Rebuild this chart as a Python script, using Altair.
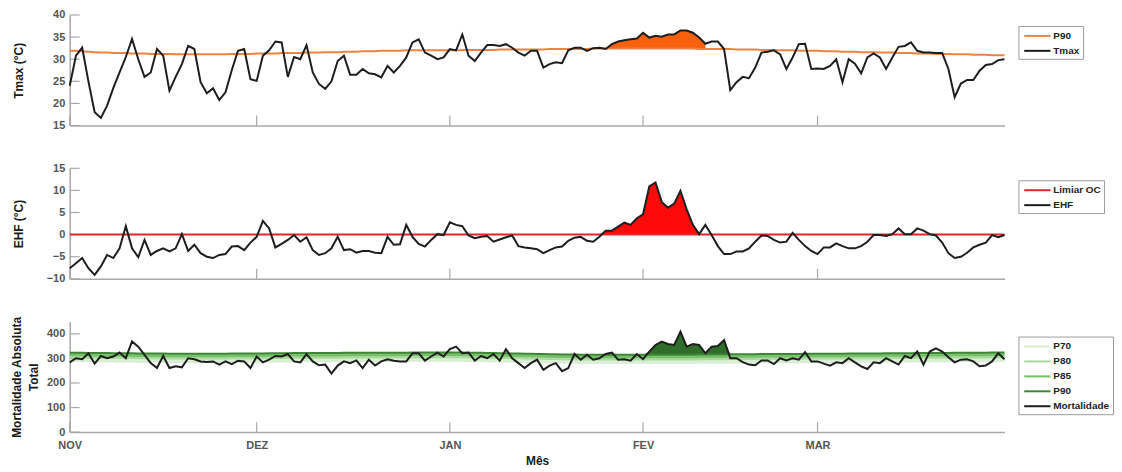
import altair as alt
import pandas as pd

# ---------------- data ----------------
months = ["NOV", "DEZ", "JAN", "FEV", "MAR"]
month_start_day = [0, 30, 61, 92, 120]
n_days = 151

tmax = [24.0, 30.8, 32.6, 25.0, 18.0, 16.7, 19.5, 23.5, 27.0, 30.5,
        34.6, 30.0, 26.0, 27.0, 32.3, 30.8, 22.9, 26.0, 28.9, 33.0,
        32.3, 24.8, 22.3, 23.4, 20.8, 22.5, 27.5, 31.9, 32.3, 25.5,
        25.1, 30.8, 32.0, 34.0, 33.8, 26.0, 30.5, 30.0, 33.2, 27.0,
        24.4, 23.3, 25.0, 29.6, 30.8, 26.5, 26.5, 27.8, 26.8, 26.6,
        25.9, 28.5, 27.0, 28.5, 30.4, 33.8, 34.5, 31.5, 30.8, 30.0,
        30.4, 32.3, 32.0, 35.6, 30.8, 29.6, 31.5, 33.2, 33.2, 33.0,
        33.4, 32.6, 31.5, 30.8, 31.9, 31.9, 28.1, 28.9, 29.3, 29.1,
        32.0, 32.6, 32.6, 31.9, 32.5, 32.6, 32.3, 33.4, 34.0, 34.3,
        34.5, 34.7, 36.0, 34.9, 35.3, 35.1, 35.6, 35.6, 36.5, 36.5,
        36.0, 34.9, 33.5, 34.0, 34.0, 32.3, 23.0, 24.8, 26.0, 25.7,
        28.1, 31.5, 31.7, 32.0, 31.1, 27.8, 30.4, 33.4, 33.5, 27.8,
        27.9, 27.8, 28.5, 30.0, 24.8, 30.0, 29.0, 26.8, 30.4, 31.3,
        30.4, 27.8, 30.4, 32.8, 33.0, 33.8, 31.9, 31.5, 31.5, 31.4,
        31.4, 27.8, 21.4, 24.5, 25.3, 25.3, 27.4, 28.7, 28.9, 29.8,
        30.0]

tmax_p90 = [31.9, 31.9, 31.8, 31.7, 31.6, 31.5, 31.5, 31.4, 31.4, 31.4,
            31.3, 31.3, 31.3, 31.2, 31.2, 31.2, 31.2, 31.1, 31.1, 31.1,
            31.1, 31.1, 31.1, 31.1, 31.1, 31.1, 31.2, 31.2, 31.2, 31.2,
            31.3, 31.3, 31.3, 31.3, 31.4, 31.4, 31.4, 31.4, 31.5, 31.5,
            31.5, 31.6, 31.6, 31.6, 31.7, 31.7, 31.7, 31.8, 31.8, 31.8,
            31.9, 31.9, 31.9, 31.9, 32.0, 32.0, 32.0, 32.0, 32.0, 32.0,
            32.0, 32.0, 32.0, 32.1, 32.1, 32.1, 32.1, 32.1, 32.1, 32.2,
            32.2, 32.2, 32.2, 32.2, 32.2, 32.2, 32.2, 32.3, 32.3, 32.3,
            32.3, 32.3, 32.3, 32.3, 32.4, 32.4, 32.4, 32.4, 32.4, 32.4,
            32.4, 32.4, 32.4, 32.4, 32.4, 32.4, 32.4, 32.4, 32.4, 32.4,
            32.4, 32.3, 32.3, 32.3, 32.3, 32.3, 32.3, 32.2, 32.2, 32.2,
            32.2, 32.1, 32.1, 32.1, 32.0, 32.0, 32.0, 31.9, 31.9, 31.9,
            31.9, 31.8, 31.8, 31.8, 31.7, 31.7, 31.7, 31.6, 31.6, 31.6,
            31.5, 31.5, 31.5, 31.4, 31.4, 31.4, 31.3, 31.3, 31.3, 31.2,
            31.2, 31.2, 31.1, 31.1, 31.1, 31.0, 31.0, 31.0, 30.9, 30.9,
            30.9]

ehf = [-7.6, -6.5, -5.3, -7.6, -9.1, -7.2, -4.6, -5.3, -3.1, 1.9,
       -3.1, -5.1, -1.2, -4.6, -3.7, -3.1, -3.8, -3.1, 0.1, -3.7,
       -2.3, -4.2, -5.0, -5.3, -4.6, -4.4, -2.7, -2.6, -3.5, -1.8,
       -0.5, 3.1, 1.4, -2.9, -2.1, -1.2, -0.1, -1.6, -0.6, -3.5,
       -4.6, -4.2, -3.1, -0.5, -3.5, -3.3, -4.1, -3.7, -3.7, -4.1,
       -4.2, -0.5, -2.3, -2.2, 2.2, -0.5, -2.1, -2.7, -1.2, 0.1,
       -0.1, 2.8, 2.2, 1.9, -0.2, -0.8, -0.5, -0.3, -1.6, -1.1,
       -0.6, -0.2, -2.6, -2.9, -3.1, -3.3, -4.2, -3.5, -2.9, -2.7,
       -1.4, -0.7, -0.5, -1.4, -1.6, -0.5, 0.9, 0.9, 1.8, 2.7,
       2.2, 3.7, 4.6, 10.9, 11.8, 7.4, 6.1, 7.0, 9.9, 5.7,
       2.2, 0.1, 2.2, -0.1, -2.6, -4.4, -4.4, -3.8, -3.8, -3.1,
       -1.6, -0.2, -0.3, -1.2, -1.8, -1.6, 0.4, -1.2, -2.6, -3.7,
       -4.4, -2.9, -2.9, -2.0, -2.6, -3.1, -3.1, -2.6, -1.6, -0.1,
       -0.1, -0.3, 0.1, 1.4, 0.1, 0.1, 1.4, 0.9, 0.1, -0.2,
       -1.8, -4.2, -5.3, -5.0, -4.1, -2.9, -2.3, -1.8, -0.1, -0.6,
       -0.1]
ehf_limiar = 0

mortalidade = [284, 301, 297, 321, 279, 310, 301, 308, 324, 301,
               369, 348, 315, 281, 261, 310, 261, 268, 264, 301,
               297, 288, 286, 288, 275, 288, 277, 291, 288, 261,
               308, 284, 295, 310, 308, 318, 288, 284, 318, 288,
               272, 275, 238, 271, 288, 281, 292, 261, 295, 271,
               288, 297, 291, 288, 288, 321, 321, 291, 308, 324,
               308, 338, 348, 321, 324, 291, 310, 301, 318, 291,
               338, 301, 281, 261, 281, 295, 254, 271, 281, 248,
               261, 318, 295, 315, 295, 301, 318, 324, 295, 297,
               291, 318, 297, 328, 355, 369, 359, 355, 409, 348,
               359, 355, 321, 348, 351, 375, 301, 301, 285, 275,
               272, 292, 292, 277, 301, 292, 301, 295, 326, 288,
               288, 279, 271, 284, 281, 301, 284, 268, 257, 284,
               281, 301, 288, 275, 310, 301, 328, 275, 328, 341,
               328, 305, 284, 295, 297, 288, 268, 271, 288, 321,
               297]

mort_p90 = [323, 323, 323, 322, 322, 322, 322, 321, 321, 321, 321, 320, 320, 320, 320, 320, 319, 319, 319, 319,
            319, 319, 319, 319, 319, 319, 320, 320, 320, 320,
            320, 320, 321, 321, 321, 321, 322, 322, 322, 322, 322, 322, 322, 322, 323, 323, 323, 323, 323, 323,
            323, 323, 323, 323, 323, 324, 324, 324, 324, 324, 324,
            324, 324, 324, 323, 323, 323, 322, 322, 321, 321, 320, 320, 319, 319, 318, 318, 317, 317, 316, 316,
            316, 315, 315, 315, 315, 315, 315, 315, 315, 315, 315,
            315, 315, 315, 315, 315, 315, 315, 315, 315, 316, 316, 316, 316, 316, 317, 317, 317, 317, 317, 318,
            318, 318, 318, 318, 318, 318, 319, 319, 319,
            319, 319, 319, 319, 320, 320, 320, 320, 320, 320, 321, 321, 321, 321, 321, 322, 322, 322, 322, 322,
            322, 323, 323, 323, 323, 323, 323, 324, 324, 324]
mort_p85 = [312, 312, 312, 311, 311, 311, 311, 310, 310, 310, 310, 309, 309, 309, 309, 309, 308, 308, 308, 308,
            308, 308, 308, 308, 308, 308, 309, 309, 309, 309,
            309, 309, 310, 310, 310, 310, 311, 311, 311, 311, 311, 311, 311, 311, 312, 312, 312, 312, 312, 312,
            312, 312, 312, 312, 312, 313, 313, 313, 313, 313, 313,
            313, 313, 313, 312, 312, 312, 311, 311, 310, 310, 309, 309, 308, 308, 307, 307, 306, 306, 305, 305,
            305, 304, 304, 304, 304, 304, 304, 304, 304, 304, 304,
            304, 304, 304, 304, 304, 304, 304, 304, 304, 305, 305, 305, 305, 305, 306, 306, 306, 306, 306, 307,
            307, 307, 307, 307, 307, 307, 308, 308, 308,
            308, 308, 308, 308, 309, 309, 309, 309, 309, 309, 310, 310, 310, 310, 310, 311, 311, 311, 311, 311,
            311, 312, 312, 312, 312, 312, 312, 313, 313, 313]
mort_p80 = [303, 303, 303, 302, 302, 302, 302, 301, 301, 301, 301, 300, 300, 300, 300, 300, 299, 299, 299, 299,
            299, 299, 299, 299, 299, 299, 300, 300, 300, 300,
            300, 300, 301, 301, 301, 301, 302, 302, 302, 302, 302, 302, 302, 302, 303, 303, 303, 303, 303, 303,
            303, 303, 303, 303, 303, 304, 304, 304, 304, 304, 304,
            304, 304, 304, 303, 303, 303, 302, 302, 301, 301, 300, 300, 299, 299, 298, 298, 297, 297, 296, 296,
            296, 295, 295, 295, 295, 295, 295, 295, 295, 295, 295,
            295, 295, 295, 295, 295, 295, 295, 295, 295, 296, 296, 296, 296, 296, 297, 297, 297, 297, 297, 298,
            298, 298, 298, 298, 298, 298, 299, 299, 299,
            299, 299, 299, 299, 300, 300, 300, 300, 300, 300, 301, 301, 301, 301, 301, 302, 302, 302, 302, 302,
            302, 303, 303, 303, 303, 303, 303, 304, 304, 304]
mort_p70 = [289, 289, 289, 288, 288, 288, 288, 287, 287, 287, 287, 286, 286, 286, 286, 286, 285, 285, 285, 285,
            285, 285, 285, 285, 285, 285, 286, 286, 286, 286,
            286, 286, 287, 287, 287, 287, 288, 288, 288, 288, 288, 288, 288, 288, 289, 289, 289, 289, 289, 289,
            289, 289, 289, 289, 289, 290, 290, 290, 290, 290, 290,
            290, 290, 290, 289, 289, 289, 288, 288, 287, 287, 286, 286, 285, 285, 284, 284, 283, 283, 282, 282,
            282, 281, 281, 281, 281, 281, 281, 281, 281, 281, 281,
            281, 281, 281, 281, 281, 281, 281, 281, 281, 282, 282, 282, 282, 282, 283, 283, 283, 283, 283, 284,
            284, 284, 284, 284, 284, 284, 285, 285, 285,
            285, 285, 285, 285, 286, 286, 286, 286, 286, 286, 287, 287, 287, 287, 287, 288, 288, 288, 288, 288,
            288, 289, 289, 289, 289, 289, 289, 290, 290, 290]

# heat-wave windows (first day, last day) shaded in each panel
tmax_wave = [86, 102]
ehf_wave = [85, 101]
mort_wave = [92, 106]

tmax_ticks = [15, 20, 25, 30, 35, 40]
ehf_ticks = [-10, -5, 0, 5, 10, 15]
mort_ticks = [0, 100, 200, 300, 400]

for name, s in [("tmax", tmax), ("tmax_p90", tmax_p90), ("ehf", ehf), ("mort", mortalidade),
                ("p90", mort_p90), ("p85", mort_p85), ("p80", mort_p80), ("p70", mort_p70)]:
    if len(s) != n_days:
        raise ValueError(f"{name} has {len(s)} values")

days = list(range(n_days))
df = pd.DataFrame({
    "day": days, "tmax": tmax, "tmax_p90": tmax_p90, "ehf": ehf,
    "mort": mortalidade, "p90": mort_p90, "p85": mort_p85, "p80": mort_p80, "p70": mort_p70,
})


def long_df(series):
    parts = [pd.DataFrame({"day": days, "serie": name, "valor": vals}) for name, vals in series]
    return pd.concat(parts, ignore_index=True)


long1 = long_df([("P90", tmax_p90), ("Tmax", tmax)])
long2 = long_df([("Limiar OC", [ehf_limiar] * n_days), ("EHF", ehf)])
long3 = long_df([("P70", mort_p70), ("P80", mort_p80), ("P85", mort_p85), ("P90", mort_p90),
                 ("Mortalidade", mortalidade)])

# ---------------- style ----------------
W, H = 939, 111
FONT = "Liberation Sans"
BLACK = "#1e1e1e"
ORANGE_LINE = "#EE8240"
ORANGE_FILL = "#F8600C"
RED = "#E3242B"
RED_FILL = "#FF0A0A"
G70, G80, G85, G90 = "#D6EDCF", "#A9D99D", "#72BF65", "#3E8636"
G_FILL = "#2F6E29"
AXIS_GRAY = "#A8A8A8"

xscale = alt.Scale(domain=[0, n_days - 1], nice=False, zero=False)
label_expr = " : ".join(f"datum.value == {d} ? '{m}'" for d, m in zip(month_start_day, months)) + " : ''"


def x_enc(show_labels):
    if show_labels:
        ax = alt.Axis(values=month_start_day, labelExpr=label_expr, ticks=False, grid=False,
                      title="Mês", labelFlush=False, labelPadding=7, titlePadding=6,
                      domainColor=AXIS_GRAY, domainWidth=1.5)
    else:
        ax = alt.Axis(values=month_start_day, labels=False, ticks=False, grid=False, title=None,
                      domainColor=AXIS_GRAY, domainWidth=1.5)
    return alt.X("day:Q", scale=xscale, axis=ax)


def y_axis(title, ticks, title_x, baseline="bottom", line_h=14):
    return alt.Axis(values=ticks, title=title, ticks=False, grid=False, labelFlush=False,
                    labelPadding=5, titleX=title_x, titleY=H / 2, titleAngle=-90,
                    titleBaseline=baseline, titleAlign="center", titleLineHeight=line_h,
                    domainColor=AXIS_GRAY, domainWidth=1.5)


def legend(y_off):
    return alt.Legend(title=None, orient="none", legendX=953, legendY=y_off, direction="vertical",
                      symbolType="M-2.2,0H2.2", symbolStrokeWidth=2, symbolSize=144,
                      symbolOffset=9, labelOffset=9,
                      labelFont=FONT, labelFontWeight="bold", labelFontSize=10, labelColor="#222",
                      strokeColor="#9a9a9a", fillColor="white", padding=3, rowPadding=3,
                      cornerRadius=0)


def inward_ticks(ticks, yscale, yaxis, xshow):
    ydf = pd.DataFrame({"valor": ticks})
    yt = alt.Chart(ydf).mark_rule(color=AXIS_GRAY, strokeWidth=1.2).encode(
        y=alt.Y("valor:Q", scale=yscale, axis=yaxis),
        x=alt.value(0), x2=alt.value(10))
    xdf = pd.DataFrame({"day": month_start_day})
    xt = alt.Chart(xdf).mark_rule(color=AXIS_GRAY, strokeWidth=1.2).encode(
        x=x_enc(xshow), y=alt.value(H), y2=alt.value(H - 10))
    return [yt, xt]


def series_line(data, name, X, ys, ya, cs, leg, width=2.0):
    return alt.Chart(data).transform_filter(alt.datum.serie == name).mark_line(strokeWidth=width).encode(
        x=X, y=alt.Y("valor:Q", scale=ys, axis=ya),
        color=alt.Color("serie:N", scale=cs, legend=leg))


base = alt.Chart(df)

# ---------------- panel 1: Tmax ----------------
ys1 = alt.Scale(domain=[15, 40], nice=False, zero=False)
ya1 = y_axis("Tmax (°C)", tmax_ticks, -44)
X1 = x_enc(False)
cs1 = alt.Scale(domain=["P90", "Tmax"], range=[ORANGE_LINE, BLACK])
lg1 = legend(11)
p1_fill = base.transform_filter(
    (alt.datum.day >= tmax_wave[0]) & (alt.datum.day <= tmax_wave[1])
).transform_calculate(top="max(datum.tmax, datum.tmax_p90)").mark_area(color=ORANGE_FILL).encode(
    x=X1, y=alt.Y("tmax_p90:Q", scale=ys1, axis=ya1), y2="top:Q")
panel1 = alt.layer(
    p1_fill, *inward_ticks(tmax_ticks, ys1, ya1, False),
    series_line(long1, "P90", X1, ys1, ya1, cs1, lg1),
    series_line(long1, "Tmax", X1, ys1, ya1, cs1, lg1),
).properties(width=W, height=H)

# ---------------- panel 2: EHF ----------------
ys2 = alt.Scale(domain=[-10, 15], nice=False, zero=False)
ya2 = y_axis("EHF (°C)", ehf_ticks, -44)
X2 = x_enc(False)
cs2 = alt.Scale(domain=["Limiar OC", "EHF"], range=[RED, BLACK])
lg2 = legend(12)
p2_fill = base.transform_filter(
    (alt.datum.day >= ehf_wave[0]) & (alt.datum.day <= ehf_wave[1])
).transform_calculate(lim=f"{ehf_limiar}", top=f"max(datum.ehf, {ehf_limiar})").mark_area(
    color=RED_FILL).encode(x=X2, y=alt.Y("lim:Q", scale=ys2, axis=ya2), y2="top:Q")
panel2 = alt.layer(
    p2_fill, *inward_ticks(ehf_ticks, ys2, ya2, False),
    series_line(long2, "Limiar OC", X2, ys2, ya2, cs2, lg2),
    series_line(long2, "EHF", X2, ys2, ya2, cs2, lg2),
).properties(width=W, height=H)

# ---------------- panel 3: Mortalidade ----------------
ys3 = alt.Scale(domain=[0, 450], nice=False, zero=True)
ya3 = y_axis(["Mortalidade Absoluta", "Total"], mort_ticks, -58, "top", 17)
X3 = x_enc(True)
cs3 = alt.Scale(domain=["P70", "P80", "P85", "P90", "Mortalidade"], range=[G70, G80, G85, G90, BLACK])
lg3 = legend(15)
band1 = base.mark_area(color=G70, opacity=0.9).encode(
    x=X3, y=alt.Y("p70:Q", scale=ys3, axis=ya3), y2="p80:Q")
band2 = base.mark_area(color=G80, opacity=0.9).encode(
    x=X3, y=alt.Y("p80:Q", scale=ys3, axis=ya3), y2="p85:Q")
band3 = base.mark_area(color=G85, opacity=0.9).encode(
    x=X3, y=alt.Y("p85:Q", scale=ys3, axis=ya3), y2="p90:Q")
p3_fill = base.transform_filter(
    (alt.datum.day >= mort_wave[0]) & (alt.datum.day <= mort_wave[1])
).transform_calculate(top="max(datum.mort, datum.p90)").mark_area(color=G_FILL).encode(
    x=X3, y=alt.Y("p90:Q", scale=ys3, axis=ya3), y2="top:Q")
panel3 = alt.layer(
    band1, band2, band3, p3_fill, *inward_ticks(mort_ticks, ys3, ya3, True),
    series_line(long3, "P70", X3, ys3, ya3, cs3, lg3, 1.5),
    series_line(long3, "P80", X3, ys3, ya3, cs3, lg3, 1.5),
    series_line(long3, "P85", X3, ys3, ya3, cs3, lg3, 1.5),
    series_line(long3, "P90", X3, ys3, ya3, cs3, lg3, 2.0),
    series_line(long3, "Mortalidade", X3, ys3, ya3, cs3, lg3, 2.0),
).properties(width=W, height=H)

chart = alt.vconcat(panel1, panel2, panel3, spacing=43, bounds="flush").resolve_scale(
    color="independent").resolve_legend(color="independent").properties(
    padding={"left": 2, "top": 0, "right": 0, "bottom": 0}
).configure_view(stroke=None).configure_axis(
    labelFont=FONT, labelFontWeight="bold", labelFontSize=11, labelColor="#555555",
    titleFont=FONT, titleFontWeight="bold", titleFontSize=12, titleColor="#1a1a1a"
).configure_legend(labelFont=FONT)

chart.save("out.html", embed_options={"renderer": "svg", "actions": False})
